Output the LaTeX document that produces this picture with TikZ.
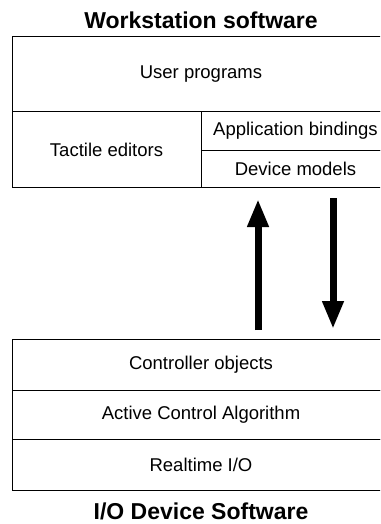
\documentclass[tikz,border=0pt]{standalone}
\usepackage{fontspec}
\setmainfont{Liberation Sans}
\usetikzlibrary{arrows.meta}
\begin{document}
\begin{tikzpicture}[x=1pt,y=-1pt,
  layerbox/.style={draw=black,line width=1pt,inner sep=0pt,anchor=center,
    font=\fontsize{18.5}{22}\selectfont},
  titletext/.style={inner sep=0pt,font=\fontsize{23}{26}\bfseries\selectfont},
  bigarrow/.style={line width=7pt,-{Triangle[width=20pt,length=28pt]}}]
\useasboundingbox (0,0) rectangle (380,524);
\clip (0,0) rectangle (380,524);
\node[titletext] (wtitle) at (201,20) {Workstation software};
\node[layerbox,minimum width=378pt,minimum height=75pt] (user) at (201,74.5) {User programs};
\node[layerbox,minimum width=189pt,minimum height=75pt] (tact) at (106.5,149.5) {Tactile editors};
\node[layerbox,minimum width=189pt,minimum height=38pt] (appb) at (295.5,131) {Application bindings};
\node[layerbox,minimum width=189pt,minimum height=37pt] (devm) at (295.5,168.5) {Device models};
\node[layerbox,minimum width=378pt,minimum height=51pt] (ctrl) at (201,364.5) {Controller objects};
\node[layerbox,minimum width=378pt,minimum height=49pt] (aca) at (201,414.5) {Active Control Algorithm};
\node[layerbox,minimum width=378pt,minimum height=51pt] (rio) at (201,464.5) {Realtime I/O};
\node[titletext] (iotitle) at (201,511.5) {I/O Device Software};
\coordinate (upS) at (258,330);
\coordinate (upE) at (258,199);
\coordinate (dnS) at (333,198);
\coordinate (dnE) at (333,329);
\draw[bigarrow] (upS) -- (upE);
\draw[bigarrow] (dnS) -- (dnE);
\end{tikzpicture}
\end{document}
